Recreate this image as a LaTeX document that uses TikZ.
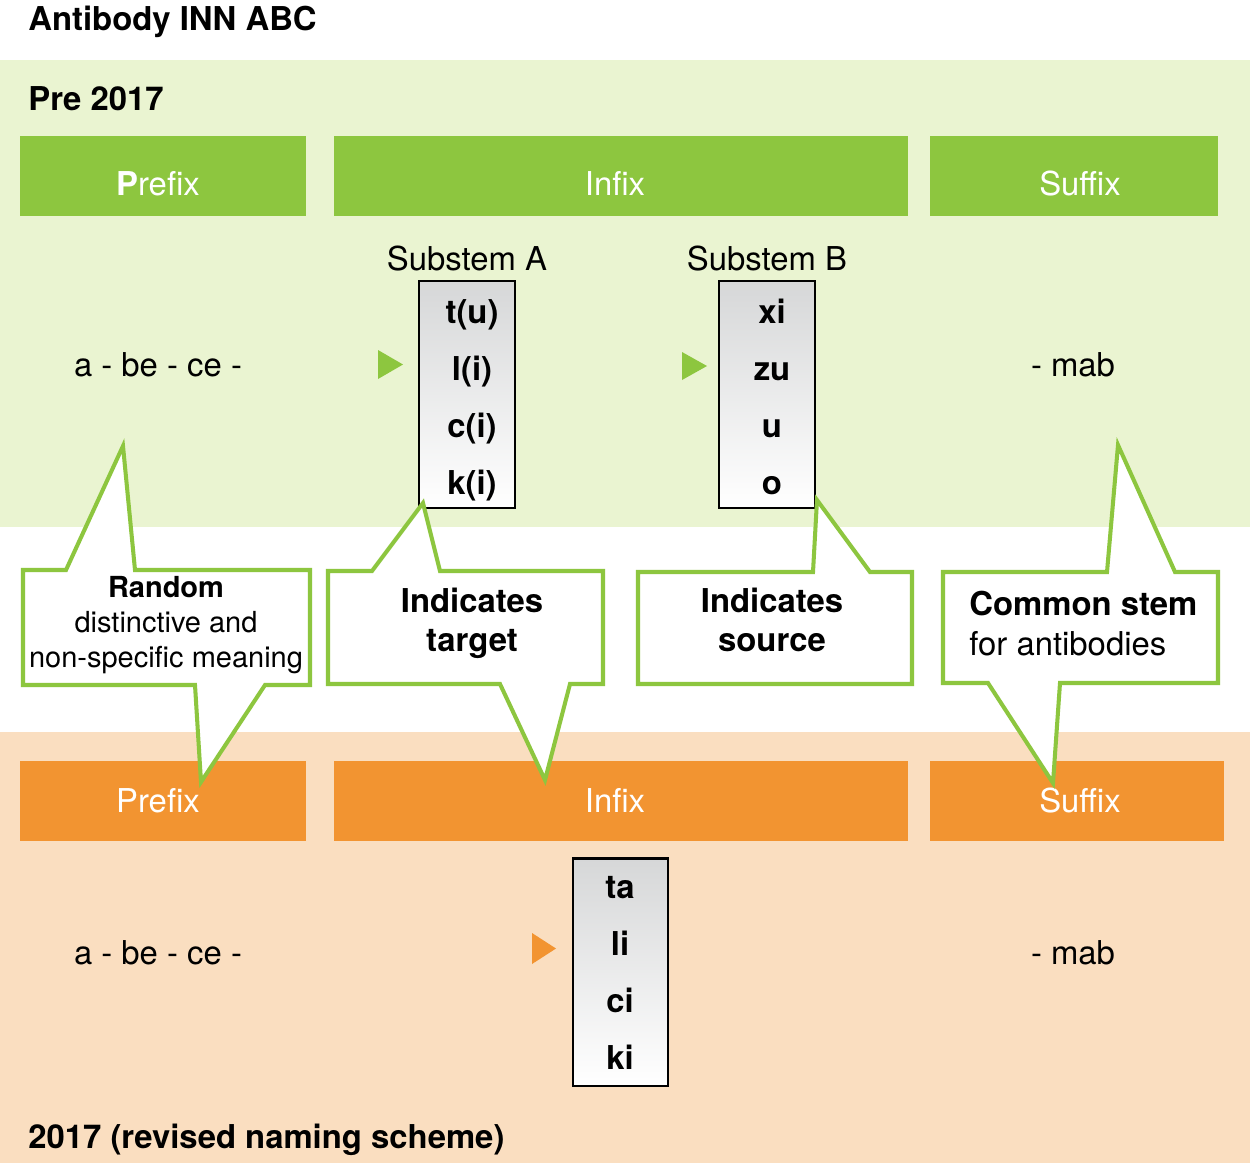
\documentclass[tikz,border=0pt]{standalone}
\usepackage{fontspec}
\setmainfont{TeX Gyre Heros}
\definecolor{bggreen}{RGB}{234,244,209}
\definecolor{hdgreen}{RGB}{141,198,63}
\definecolor{bgorange}{RGB}{250,222,192}
\definecolor{hdorange}{RGB}{242,148,49}
\definecolor{boxtop}{RGB}{214,215,216}
\begin{document}
\begin{tikzpicture}[x=0.02cm,y=-0.02cm,
  txt/.style={inner sep=0pt,anchor=base,font=\fontsize{18.7}{22}\selectfont},
  btxt/.style={txt,font=\fontsize{18.7}{22}\selectfont\bfseries},
  hdtxt/.style={txt,text=white},
  stembox/.style={draw=black,line width=1.2pt,top color=boxtop,bottom color=white,inner sep=0pt},
  callout/.style={draw=hdgreen,fill=white,line width=2.3pt,line join=miter},
  tri/.style={fill=#1,draw=none}]
\useasboundingbox (0,0) rectangle (1250,1163);
% backgrounds
\fill[white] (0,0) rectangle (1250,1163);
\fill[bggreen] (0,60) rectangle (1250,527);
\fill[bgorange] (0,732) rectangle (1250,1163);
% titles
\node[btxt,anchor=base west] (title) at (28,30) {Antibody INN ABC};
\node[btxt,anchor=base west] (pre) at (28,110) {Pre 2017};
\node[btxt,anchor=base west] (rev) at (28,1148) {2017 (revised naming scheme)};
% green headers
\fill[hdgreen] (20,136) rectangle (306,216);
\fill[hdgreen] (334,136) rectangle (908,216);
\fill[hdgreen] (930,136) rectangle (1218,216);
\node[hdtxt] (gpre) at (158,195) {\textbf{P}refix};
\node[hdtxt] (ginf) at (615,195) {Infix};
\node[hdtxt] (gsuf) at (1080,195) {Suffix};
% orange headers
\fill[hdorange] (20,761) rectangle (306,841);
\fill[hdorange] (334,761) rectangle (908,841);
\fill[hdorange] (930,761) rectangle (1224,841);
\node[hdtxt] (opre) at (158,812) {Prefix};
\node[hdtxt] (oinf) at (615,812) {Infix};
\node[hdtxt] (osuf) at (1080,812) {Suffix};
% top row
\node[txt] (subA) at (467,270) {Substem A};
\node[txt] (subB) at (767,270) {Substem B};
\node[txt] (abc1) at (158,376) {a - be - ce -};
\node[txt] (mab1) at (1073,376) {- mab};
\node[stembox,minimum width=96*0.567pt,minimum height=227*0.567pt] (boxA) at (467,394.5) {};
\node[stembox,minimum width=96*0.567pt,minimum height=227*0.567pt] (boxB) at (767,394.5) {};
\node[btxt] (a1) at (472,323) {t(u)};
\node[btxt] (a2) at (472,380) {l(i)};
\node[btxt] (a3) at (472,437) {c(i)};
\node[btxt] (a4) at (472,494) {k(i)};
\node[btxt] (b1) at (772,323) {xi};
\node[btxt] (b2) at (772,380) {zu};
\node[btxt] (b3) at (772,437) {u};
\node[btxt] (b4) at (772,494) {o};
\fill[hdgreen] (378,350) -- (403,364.5) -- (378,379) -- cycle;
\fill[hdgreen] (682,352) -- (707,366) -- (682,380) -- cycle;
% bottom row
\node[txt] (abc2) at (158,964) {a - be - ce -};
\node[txt] (mab2) at (1073,964) {- mab};
\node[stembox,minimum width=95*0.567pt,minimum height=228*0.567pt] (boxC) at (620.5,972) {};
\node[btxt] (c1) at (620,898) {ta};
\node[btxt] (c2) at (620,955) {li};
\node[btxt] (c3) at (620,1012) {ci};
\node[btxt] (c4) at (620,1069) {ki};
\fill[hdorange] (532,933) -- (556,948.5) -- (532,964) -- cycle;
% callouts
\draw[callout] (23,570) -- (66,570) -- (123,446) -- (135,570) -- (310,570) -- (310,685) -- (265,685) -- (201,782) -- (195,685) -- (23,685) -- cycle;
\draw[callout] (328,571) -- (372,571) -- (423,503) -- (440,571) -- (603,571) -- (603,684) -- (570,684) -- (545,780) -- (500,684) -- (328,684) -- cycle;
\draw[callout] (638,572) -- (813,572) -- (817,500) -- (870,572) -- (912,572) -- (912,684) -- (638,684) -- cycle;
\draw[callout] (943,572) -- (1107,572) -- (1118,445) -- (1175,572) -- (1218,572) -- (1218,683) -- (1060,683) -- (1053,783) -- (988,683) -- (943,683) -- cycle;
% callout texts
\node[txt,font=\fontsize{16.5}{20}\selectfont\bfseries] (r1) at (166,597) {Random};
\node[txt,font=\fontsize{16.5}{20}\selectfont] (r2) at (166,632) {distinctive and};
\node[txt,font=\fontsize{16.5}{20}\selectfont] (r3) at (166,667) {non-specific meaning};
\node[btxt] (t1) at (472,612) {Indicates};
\node[btxt] (t2) at (472,651) {target};
\node[btxt] (s1) at (772,612) {Indicates};
\node[btxt] (s2) at (772,651) {source};
\node[btxt,anchor=base west] (m1) at (969,615) {Common stem};
\node[txt,anchor=base west] (m2) at (969,655) {for antibodies};
\end{tikzpicture}
\end{document}
